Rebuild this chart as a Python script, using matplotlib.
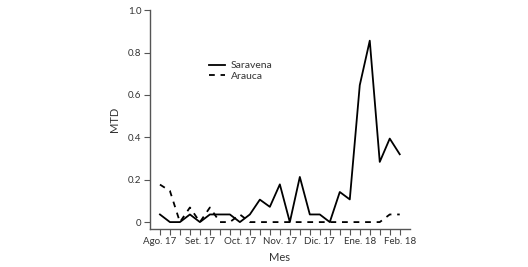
import matplotlib
matplotlib.use("Agg")
import matplotlib.pyplot as plt
import numpy as np

plt.rcParams['font.family'] = ['Lato', 'DejaVu Sans']

tick_labels = ["Ago. 17", "Set. 17", "Oct. 17", "Nov. 17", "Dic. 17", "Ene. 18", "Feb. 18"]
saravena = [0.036, 0, 0, 0.036, 0, 0.036, 0.036, 0.036, 0, 0.036, 0.106, 0.072, 0.178,
            0, 0.213, 0.036, 0.036, 0, 0.142, 0.107, 0.646, 0.856, 0.284, 0.394, 0.32]
arauca = [0.177, 0.147, 0, 0.069, 0, 0.069, 0, 0, 0.036, 0, 0, 0, 0,
          0, 0, 0, 0, 0, 0, 0, 0, 0, 0, 0.036, 0.036]

x = np.arange(len(saravena))
gray = '#555555'

fig = plt.figure(figsize=(5.28, 2.67), dpi=100)
ax = fig.add_axes([0.284, 0.142, 0.492, 0.820])
ax.plot(x, saravena, color='black', lw=1.3, label='Saravena')
ax.plot(x, arauca, color='black', lw=1.3, ls=(0, (3.2, 3.2)), label='Arauca')

ax.set_xlim(-1, 25)
ax.set_ylim(-0.033, 1.0)
ax.set_xticks(x)
ax.set_xticklabels([tick_labels[i // 4] if i % 4 == 0 else '' for i in x])
ax.set_yticks([0, 0.2, 0.4, 0.6, 0.8, 1.0])
ax.set_yticklabels(['0', '0.2', '0.4', '0.6', '0.8', '1.0'])
for s in ['top', 'right']:
    ax.spines[s].set_visible(False)
for s in ['left', 'bottom']:
    ax.spines[s].set_color(gray)
    ax.spines[s].set_linewidth(1.0)
ax.tick_params(axis='both', colors=gray, labelcolor='#333333', labelsize=7, length=4, width=0.8, pad=2)
ax.set_xlabel('Mes', fontsize=8, color='#333333', labelpad=4)
ax.set_ylabel('MTD', fontsize=8, color='#333333', labelpad=6)
leg = ax.legend(loc='upper left', bbox_to_anchor=(0.19, 0.81), frameon=False, fontsize=7.5,
                handlelength=1.6, handletextpad=0.5, labelspacing=0.1)
for t in leg.get_texts():
    t.set_color('#333333')

fig.savefig('out.png', dpi=100)
